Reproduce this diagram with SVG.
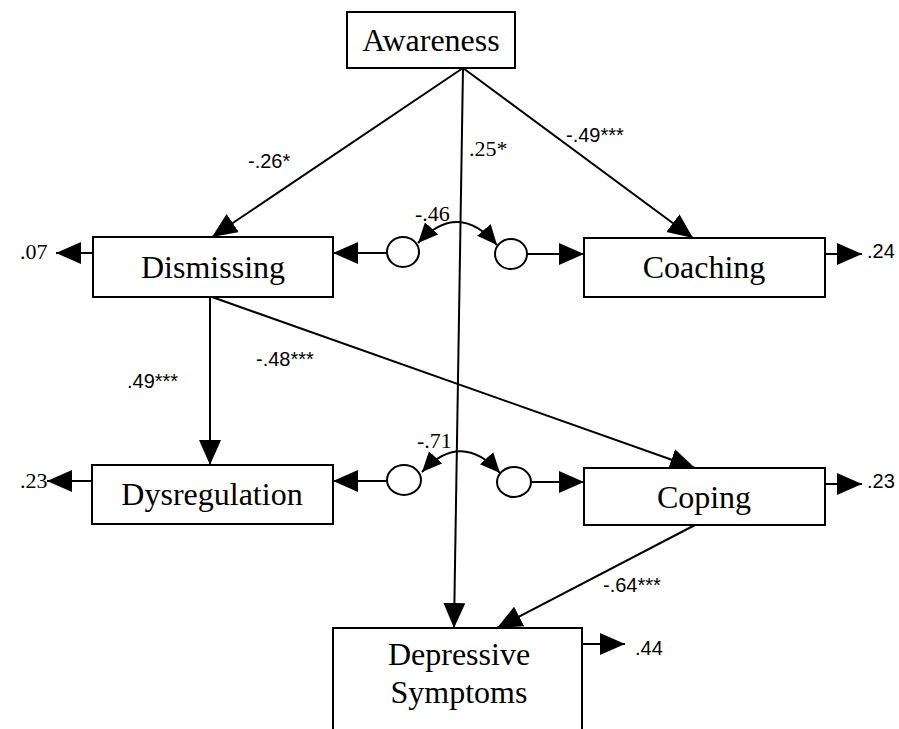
<svg xmlns="http://www.w3.org/2000/svg" width="899" height="729" viewBox="0 0 899 729">
<defs>
<style>
.box{fill:#fff;stroke:#000;stroke-width:2}
.name{font-family:"Liberation Serif","Times New Roman",serif;font-size:32px;fill:#000;text-anchor:middle}
.lbl{font-family:"Liberation Sans",Arial,sans-serif;font-size:20px;fill:#000}
.lbls{font-family:"Liberation Serif","Times New Roman",serif;font-size:22px;fill:#000}
.ln{stroke:#000;stroke-width:2;fill:none}
.ell{fill:#fff;stroke:#000;stroke-width:2}
</style>
<marker id="ah" markerUnits="userSpaceOnUse" markerWidth="28" markerHeight="24" refX="25" refY="11" orient="auto">
<path d="M0,0 L25,11 L0,22 Z" fill="#000"/>
</marker>
<marker id="ahs" markerUnits="userSpaceOnUse" markerWidth="22" markerHeight="20" refX="20" refY="9" orient="auto-start-reverse">
<path d="M0,0 L20,9 L0,18 Z" fill="#000"/>
</marker>
</defs>
<rect width="899" height="729" fill="#fff"/>

<g id="connectors">
<line class="ln" x1="463" y1="68" x2="212" y2="237" marker-end="url(#ah)"/>
<line class="ln" x1="463" y1="68" x2="693" y2="238" marker-end="url(#ah)"/>
<line class="ln" x1="463" y1="68" x2="454" y2="628" marker-end="url(#ah)"/>
<line class="ln" x1="93" y1="253" x2="56" y2="253" marker-end="url(#ah)"/>
<line class="ln" x1="825" y1="254" x2="862" y2="254" marker-end="url(#ah)"/>
<line class="ln" x1="387" y1="253" x2="333" y2="253" marker-end="url(#ah)"/>
<line class="ln" x1="527" y1="254" x2="584" y2="254" marker-end="url(#ah)"/>
<path class="ln" d="M418,243 Q458,200 497,245" marker-start="url(#ahs)" marker-end="url(#ahs)"/>
<line class="ln" x1="210" y1="297" x2="210" y2="465" marker-end="url(#ah)"/>
<line class="ln" x1="212" y1="297" x2="695" y2="468" marker-end="url(#ah)"/>
<line class="ln" x1="92" y1="481" x2="47" y2="481" marker-end="url(#ah)"/>
<line class="ln" x1="825" y1="484" x2="862" y2="484" marker-end="url(#ah)"/>
<line class="ln" x1="388" y1="481" x2="333" y2="481" marker-end="url(#ah)"/>
<line class="ln" x1="530" y1="482" x2="584" y2="482" marker-end="url(#ah)"/>
<path class="ln" d="M422,472 Q461,430 500,473" marker-start="url(#ahs)" marker-end="url(#ahs)"/>
<line class="ln" x1="695" y1="525" x2="497" y2="628" marker-end="url(#ah)"/>
<line class="ln" x1="582" y1="644" x2="625" y2="644" marker-end="url(#ah)"/>
<ellipse class="ell" cx="403" cy="252" rx="16" ry="15"/>
<ellipse class="ell" cx="511" cy="254" rx="16" ry="15"/>
<ellipse class="ell" cx="404" cy="480" rx="17" ry="15"/>
<ellipse class="ell" cx="514" cy="482" rx="17" ry="15"/>
<text class="lbl" x="248" y="168">-.26*</text>
<text class="lbls" x="469" y="156">.25*</text>
<text class="lbl" x="566" y="142">-.49***</text>
<text class="lbls" x="415" y="221">-.46</text>
<text class="lbls" x="20" y="259">.07</text>
<text class="lbl" x="867" y="258">.24</text>
<text class="lbl" x="127" y="388">.49***</text>
<text class="lbl" x="256" y="366">-.48***</text>
<text class="lbls" x="417" y="448">-.71</text>
<text class="lbls" x="20" y="488">.23</text>
<text class="lbl" x="867" y="488">.23</text>
<text class="lbl" x="603" y="592">-.64***</text>
<text class="lbl" x="635" y="655">.44</text>
</g>

<g id="awareness">
<rect class="box" x="347" y="12" width="168" height="56"/>
<text class="name" x="431" y="51">Awareness</text>
</g>
<g id="dismissing">
<rect class="box" x="93" y="237" width="240" height="60"/>
<text class="name" x="213" y="278">Dismissing</text>
</g>
<g id="coaching">
<rect class="box" x="584" y="238" width="241" height="59"/>
<text class="name" x="704" y="278">Coaching</text>
</g>
<g id="dysregulation">
<rect class="box" x="92" y="465" width="241" height="59"/>
<text class="name" x="212" y="505">Dysregulation</text>
</g>
<g id="coping">
<rect class="box" x="584" y="468" width="241" height="57"/>
<text class="name" x="704" y="508">Coping</text>
</g>
<g id="depressive">
<rect class="box" x="333" y="628" width="249" height="120"/>
<text class="name" x="459" y="665">Depressive</text>
<text class="name" x="459" y="703">Symptoms</text>
</g>
</svg>
